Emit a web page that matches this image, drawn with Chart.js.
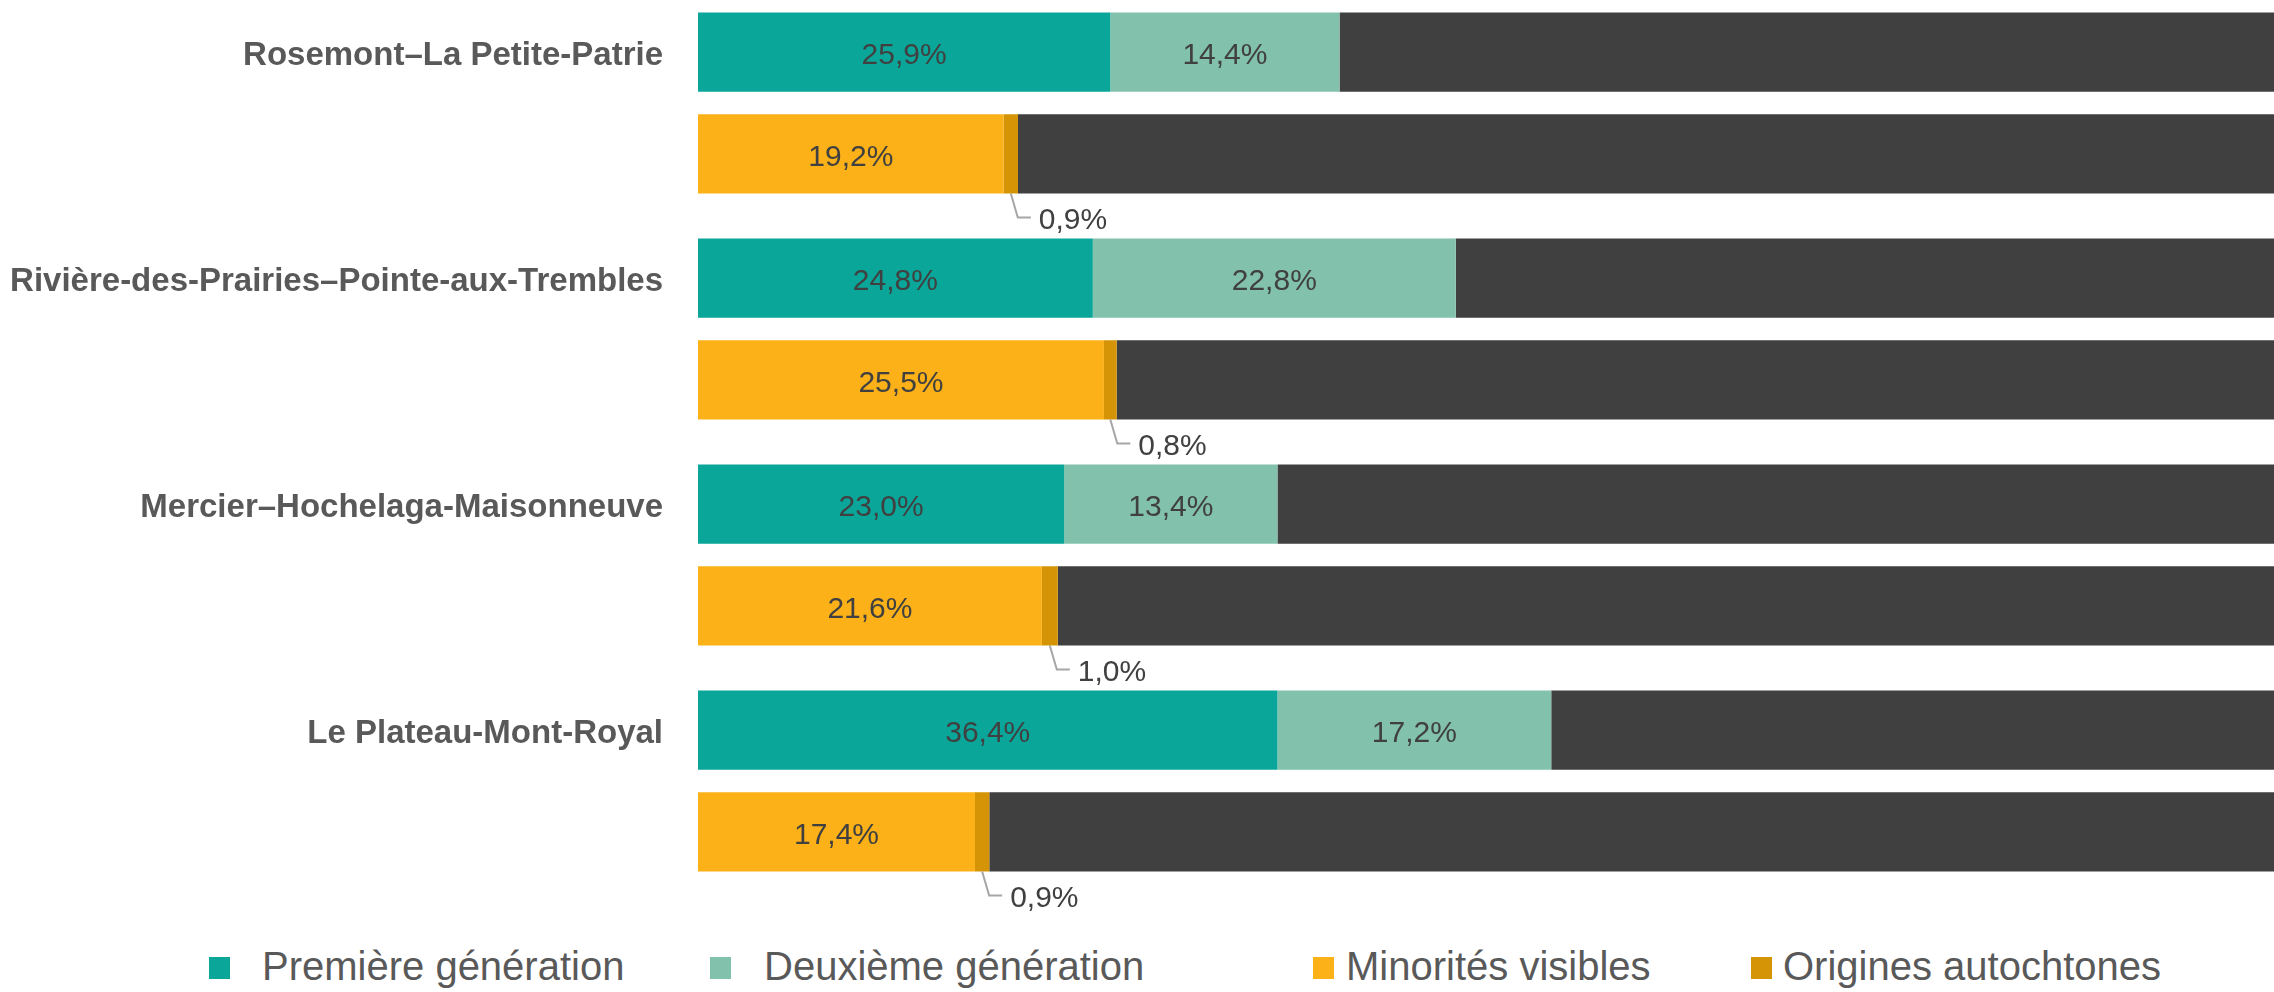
<!DOCTYPE html>
<html lang="fr">
<head>
<meta charset="utf-8">
<title>Arrondissements</title>
<script src="https://cdn.jsdelivr.net/npm/chart.js@4/dist/chart.umd.min.js"></script>
<style>
    html, body {
        margin: 0;
        padding: 0;
        background: #fff;
        width: 2274px;
        height: 992px;
        overflow: hidden;
        position: relative;
    }
    .chart-box {
        position: absolute;
        left: 0;
        top: -10px;
        width: 2274px;
        height: 944px;
    }
    .legend .item {
        position: absolute;
        top: 946px;
        height: 40px;
        font: 40px "Liberation Sans", Arial, sans-serif;
        line-height: 40px;
        color: #595959;
        white-space: nowrap;
    }
    .legend .box {
        position: absolute;
        top: 11px;
        width: 21px;
        height: 22px;
    }
    .legend .item:nth-child(1) { left: 209px; }
    .legend .item:nth-child(1) span { margin-left: 53px; }
    .legend .item:nth-child(2) { left: 710px; }
    .legend .item:nth-child(2) span { margin-left: 54px; }
    .legend .item:nth-child(3) { left: 1313px; }
    .legend .item:nth-child(3) span { margin-left: 33px; }
    .legend .item:nth-child(4) { left: 1751px; }
    .legend .item:nth-child(4) span { margin-left: 32px; }
</style>
</head>
<body>
<div class="chart-box"><canvas id="arrondissements"></canvas></div>
<div class="legend" id="legend"></div>
<script>
// Arrondissements
var districts = ['Rosemont\u2013La Petite-Patrie', 'Rivi\u00e8re-des-Prairies\u2013Pointe-aux-Trembles', 'Mercier\u2013Hochelaga-Maisonneuve', 'Le Plateau-Mont-Royal'];

// Immigration (%)
var premiereGeneration = [25.9, 24.8, 23.0, 36.4];
var deuxiemeGeneration = [14.4, 22.8, 13.4, 17.2];

// Minorités / autochtones (%)
var minoritesVisibles = [19.2, 25.5, 21.6, 17.4];
var originesAutochtones = [0.9, 0.8, 1.0, 0.9];

// reste de la population jusqu'à 100 %
function reste(a, b) {
    return a.map(function (v, i) {
        return Math.round((100 - v - b[i]) * 10) / 10;
    });
}

var fontFamily = '"Liberation Sans", Arial, sans-serif';

function pct(v) {
    return v.toFixed(1).replace('.', ',') + '%';
}

// valeurs dans les barres + étiquettes avec ligne de rappel
var valueLabels = {
    id: 'valueLabels',
    afterDatasetsDraw: function (chart) {
        var ctx = chart.ctx;
        ctx.save();
        ctx.font = '30px ' + fontFamily;
        ctx.fillStyle = '#404040';
        chart.data.datasets.forEach(function (ds, i) {
            if (!ds.labelMode) return;
            var meta = chart.getDatasetMeta(i);
            meta.data.forEach(function (bar, j) {
                var text = pct(ds.data[j]);
                var cx = (bar.x + bar.base) / 2;
                if (ds.labelMode === 'inside') {
                    ctx.textAlign = 'center';
                    ctx.textBaseline = 'middle';
                    ctx.fillText(text, cx, bar.y + 4);
                } else {
                    var bottom = bar.y + bar.height / 2;
                    ctx.strokeStyle = '#a6a6a6';
                    ctx.lineWidth = 2;
                    ctx.beginPath();
                    ctx.moveTo(cx, bottom);
                    ctx.lineTo(cx + 7, bottom + 24);
                    ctx.lineTo(cx + 20, bottom + 24);
                    ctx.stroke();
                    ctx.textAlign = 'left';
                    ctx.textBaseline = 'middle';
                    ctx.fillText(text, cx + 28, bottom + 27);
                }
            });
        });
        ctx.restore();
    }
};

var dataArrondissements = {
    labels: districts,
    datasets: [{
        label: 'Premi\u00e8re g\u00e9n\u00e9ration',
        data: premiereGeneration,
        stack: 'generation',
        backgroundColor: '#0aa69a',
        labelMode: 'inside'
    }, {
        label: 'Deuxi\u00e8me g\u00e9n\u00e9ration',
        data: deuxiemeGeneration,
        stack: 'generation',
        backgroundColor: '#82c2ac',
        labelMode: 'inside'
    }, {
        label: 'reste',
        data: reste(premiereGeneration, deuxiemeGeneration),
        stack: 'generation',
        backgroundColor: '#404040',
        hideInLegend: true
    }, {
        label: 'Minorit\u00e9s visibles',
        data: minoritesVisibles,
        stack: 'minorites',
        backgroundColor: '#fbb117',
        labelMode: 'inside'
    }, {
        label: 'Origines autochtones',
        data: originesAutochtones,
        stack: 'minorites',
        backgroundColor: '#d59405',
        labelMode: 'callout'
    }, {
        label: 'reste',
        data: reste(minoritesVisibles, originesAutochtones),
        stack: 'minorites',
        backgroundColor: '#404040',
        hideInLegend: true
    }]
};

var options = {
    indexAxis: 'y',
    responsive: true,
    maintainAspectRatio: false,
    animation: false,
    layout: {
        padding: {
            top: 0,
            bottom: 40
        }
    },
    categoryPercentage: 0.9,
    barPercentage: 0.78,
    scales: {
        x: {
            display: false,
            stacked: true,
            min: 0,
            max: 99
        },
        y: {
            stacked: true,
            grid: {
                display: false,
                drawTicks: false
            },
            border: {
                display: false
            },
            ticks: {
                padding: 35,
                labelOffset: -47,
                color: '#595959',
                font: {
                    family: fontFamily,
                    size: 33,
                    weight: 'bold'
                }
            },
            afterFit: function (scale) {
                // largeur fixe de la colonne des libellés, sans marge haut/bas
                scale.width = 698;
                scale.paddingTop = 0;
                scale.paddingBottom = 0;
            }
        }
    },
    plugins: {
        legend: {
            display: false
        },
        tooltip: {
            enabled: false
        }
    }
};

var ctx = document.getElementById('arrondissements');
var myBarChart = new Chart(ctx, {
    type: 'bar',
    data: dataArrondissements,
    options: options,
    plugins: [valueLabels]
});

// Légende
var legend = document.getElementById('legend');
dataArrondissements.datasets.forEach(function (ds) {
    if (ds.hideInLegend) return;
    var item = document.createElement('div');
    item.className = 'item';
    var box = document.createElement('div');
    box.className = 'box';
    box.style.background = ds.backgroundColor;
    var text = document.createElement('span');
    text.textContent = ds.label;
    item.appendChild(box);
    item.appendChild(text);
    legend.appendChild(item);
});
</script>
</body>
</html>
